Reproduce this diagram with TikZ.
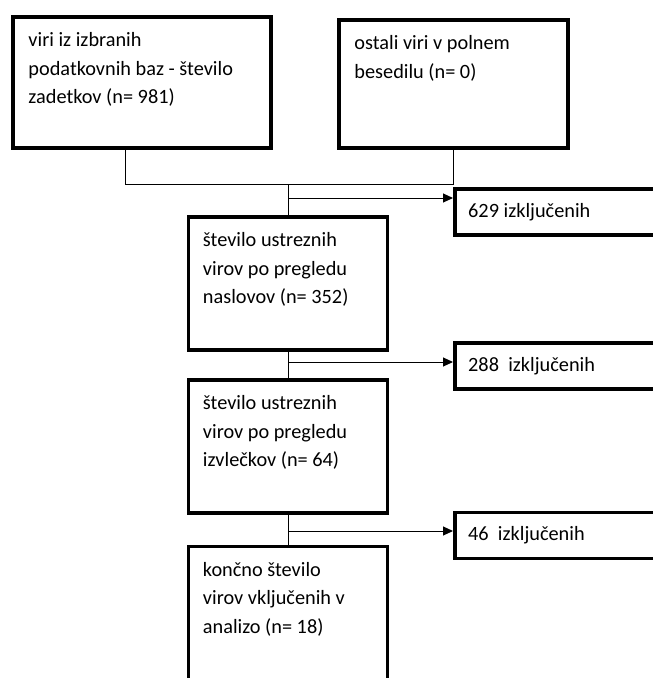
\documentclass[tikz,border=0pt]{standalone}
\usepackage{fontspec}
\setmainfont{Carlito}
\usetikzlibrary{positioning}
\usetikzlibrary{arrows.meta}
\newcommand{\lineColor}{black}
\tikzset{box/.style = {draw=\lineColor, line width=3.5pt, inner sep=0pt}}
\tikzset{link/.style = {\lineColor, line width=1pt}}
\tikzset{cut/.style = {link, -{Triangle[length=10pt,width=9pt]}}}
\tikzset{txt/.style = {inner sep=0pt, align=left, font=\fontsize{20.3}{28.5}\selectfont}}

\begin{document}
\begin{tikzpicture}[x=1pt, y=-1pt]
  \path[use as bounding box, clip] (0,0) rectangle (653,678);
  \def\bw{199pt}
  \def\bh{133pt}
  % main column
  \node[box, minimum width=258pt, minimum height=131pt] (src) at (142,82.5) {};
  \node[box, minimum width=229pt, minimum height=128pt] (other) at (453.5,84) {};
  \node[box, minimum width=\bw, minimum height=\bh] (titles) at (288,283.5) {};
  \node[box, minimum width=\bw, minimum height=\bh] (abstracts) at (288,446.5) {};
  \node[box, minimum width=\bw, minimum height=\bh] (final) at (288,613) {};
  % excluded
  \node[box, minimum width=216pt, minimum height=46pt, anchor=west] (exA) at (453,212) {};
  \node[box, minimum width=216pt, minimum height=46pt, anchor=west] (exB) at (453,366) {};
  \node[box, minimum width=216pt, minimum height=46pt, anchor=west] (exC) at (453,535.5) {};

  \node[txt, below right=17pt and 17pt of src.north west] (srcText)
    {viri iz izbranih\\podatkovnih baz - število\\zadetkov (n= 981)};
  \node[txt, below right=17pt and 17pt of other.north west] (otherText)
    {ostali viri v polnem\\besedilu (n= 0)};
  \node[txt, below right=17pt and 16pt of titles.north west] (titlesText)
    {število ustreznih\\virov po pregledu\\naslovov (n= 352)};
  \node[txt, below right=17pt and 16pt of abstracts.north west] (abstractsText)
    {število ustreznih\\virov po pregledu\\izvlečkov (n= 64)};
  \node[txt, below right=17pt and 16pt of final.north west] (finalText)
    {končno število\\virov vključenih v\\analizo (n= 18)};
  \node[txt, right=15pt of exA.west] (exAText) {629 izključenih};
  \node[txt, right=15pt of exB.west] (exBText) {288~~izključenih};
  \node[txt, right=15pt of exC.west] (exCText) {46~~izključenih};

  % joining the two sources
  \coordinate (srcLeg) at (125,184);
  \coordinate (join) at (288,184);
  \draw[link] (src.south -| srcLeg) -- (srcLeg) -- (srcLeg -| other.south) -- (other.south);
  \draw[link] (join) -- (titles.north);
  \coordinate (cutA) at (288,198);
  \draw[cut] (cutA) -- (cutA -| exA.west);
  % later steps
  \draw[link] (titles.south) -- (abstracts.north);
  \coordinate (cutB) at (288,362);
  \draw[cut] (cutB) -- (cutB -| exB.west);
  \draw[link] (abstracts.south) -- (final.north);
  \coordinate (cutC) at (288,531);
  \draw[cut] (cutC) -- (cutC -| exC.west);
\end{tikzpicture}
\end{document}
